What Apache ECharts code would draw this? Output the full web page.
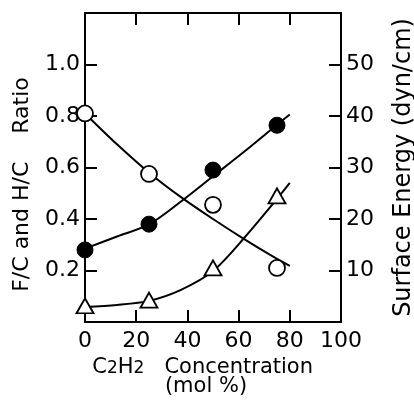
<!DOCTYPE html>
<html>
<head>
    <meta charset="utf-8">
    <title>F/C, H/C and surface energy vs C2H2 concentration</title>
    <script src="https://cdn.jsdelivr.net/npm/echarts@6/dist/echarts.min.js"></script>
    <style>
        html, body { margin: 0; padding: 0; background: #fff; }
    </style>
</head>
<body>
    <div id="main" style="width: 414px;height:402px;"></div>
    <script type="text/javascript">
        // measured points (mol % C2H2)
        var concentration = [0, 25, 50, 75];
        var fcRatio = [0.81, 0.575, 0.455, 0.21];        // open circles
        var hcRatio = [0.063, 0.085, 0.21, 0.49];        // open triangles
        var surfaceEnergy = [14.0, 19.0, 29.5, 38.2];    // filled circles, dyn/cm

        // hand-drawn curves
        var fitX = [0, 12.5, 25, 37.5, 50, 62.5, 75, 80];
        var fcFit = [0.81, 0.69, 0.58, 0.485, 0.40, 0.32, 0.245, 0.218];
        var hcFit = [0.058, 0.066, 0.082, 0.125, 0.198, 0.33, 0.478, 0.54];
        var seFit = [14.25, 16.6, 18.95, 23.4, 28.3, 33.2, 38.3, 40.3];

        function pairs(xs, ys) {
            var out = [];
            for (var i = 0; i < xs.length; i++) out.push([xs[i], ys[i]]);
            return out;
        }

        var myChart = echarts.init(document.getElementById('main'));
        var font = 'DejaVu Sans';
        var lineW = 2;
        var frameLine = { show: true, onZero: false, lineStyle: { color: '#000', width: lineW } };
        var inTick = { show: true, inside: true, length: 12, lineStyle: { color: '#000', width: lineW } };

        var option = {
            animation: false,
            backgroundColor: '#fff',
            textStyle: { fontFamily: font, color: '#000' },
            grid: { left: 85, right: 73, top: 13, bottom: 80, containLabel: false, outerBoundsMode: 'none' },
            xAxis: [{
                type: 'value', min: 0, max: 100, interval: 20,
                name: '{t|C}{s|2}{t|H}{s|2}{t|   Concentration }\n{t|(mol %)}',
                nameLocation: 'middle', nameGap: 34,
                nameTextStyle: {
                    padding: [0, 14, 0, 0],
                    lineHeight: 19,
                    rich: {
                        t: { fontSize: 21, fontFamily: font, color: '#000', lineHeight: 19 },
                        s: { fontSize: 17, fontFamily: font, color: '#000', lineHeight: 19, verticalAlign: 'bottom' }
                    }
                },
                axisLine: frameLine,
                axisTick: inTick,
                axisLabel: { fontSize: 22, color: '#000', margin: 8, fontFamily: font },
                splitLine: { show: false }
            }, {
                type: 'value', min: 0, max: 100, interval: 20, position: 'top',
                axisLine: frameLine,
                axisTick: inTick,
                axisLabel: { show: false },
                splitLine: { show: false }
            }],
            yAxis: [{
                type: 'value', min: 0, max: 1.2, interval: 0.2, position: 'left',
                name: 'F/C and H/C    Ratio',
                nameLocation: 'middle', nameGap: 52,
                nameTextStyle: { fontSize: 22, fontFamily: font, color: '#000', padding: [0, 34, 0, 0] },
                axisLine: frameLine,
                axisTick: inTick,
                axisLabel: {
                    fontSize: 22, color: '#000', margin: 5, fontFamily: font,
                    showMinLabel: false, showMaxLabel: false,
                    formatter: function (v) { return v.toFixed(1); }
                },
                splitLine: { show: false }
            }, {
                type: 'value', min: 0, max: 60, interval: 10, position: 'right',
                name: 'Surface Energy (dyn/cm)',
                nameLocation: 'middle', nameGap: 51,
                nameTextStyle: { fontSize: 24, fontFamily: font, color: '#000' },
                axisLine: frameLine,
                axisTick: inTick,
                axisLabel: {
                    fontSize: 22, color: '#000', margin: 5, fontFamily: font,
                    showMinLabel: false, showMaxLabel: false
                },
                splitLine: { show: false }
            }],
            series: [
                {
                    name: 'F/C fit', type: 'line', smooth: 0.3, showSymbol: false,
                    data: pairs(fitX, fcFit),
                    lineStyle: { color: '#000', width: lineW }, z: 2
                },
                {
                    name: 'H/C fit', type: 'line', smooth: 0.3, showSymbol: false,
                    data: pairs(fitX, hcFit),
                    lineStyle: { color: '#000', width: lineW }, z: 2
                },
                {
                    name: 'Surface energy fit', type: 'line', smooth: 0.3, showSymbol: false,
                    yAxisIndex: 1,
                    data: pairs(fitX, seFit),
                    lineStyle: { color: '#000', width: lineW }, z: 2
                },
                {
                    name: 'F/C', type: 'scatter', symbol: 'circle', symbolSize: 16,
                    data: pairs(concentration, fcRatio),
                    itemStyle: { color: '#fff', borderColor: '#000', borderWidth: 1.8, opacity: 1 }, z: 3
                },
                {
                    name: 'H/C', type: 'scatter', symbol: 'triangle', symbolSize: [17, 15],
                    data: pairs(concentration, hcRatio),
                    itemStyle: { color: '#fff', borderColor: '#000', borderWidth: 1.8, opacity: 1 }, z: 3
                },
                {
                    name: 'Surface energy', type: 'scatter', symbol: 'circle', symbolSize: 16,
                    yAxisIndex: 1,
                    data: pairs(concentration, surfaceEnergy),
                    itemStyle: { color: '#000', borderColor: '#000', borderWidth: 1, opacity: 1 }, z: 3
                }
            ]
        };
        myChart.setOption(option);
    </script>
</body>
</html>
